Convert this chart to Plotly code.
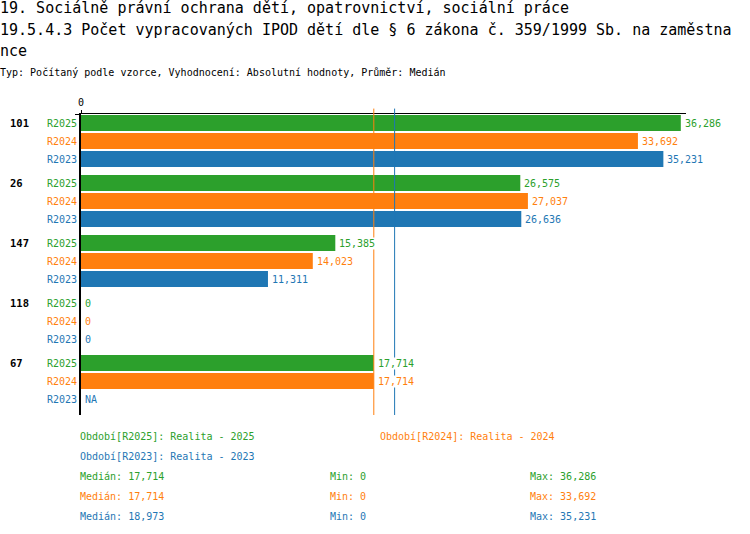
import numpy as np
import plotly.graph_objects as go

# categories (groups, top to bottom) and series
groups = ["101", "26", "147", "118", "67"]
series = ["R2025", "R2024", "R2023"]
colors = ["#2ca02c", "#ff7f0e", "#1f77b4"]
legend_names = ["Realita - 2025", "Realita - 2024", "Realita - 2023"]

r2025 = [36286, 26575, 15385, 0, 17714]
r2024 = [33692, 27037, 14023, 0, 17714]
r2023 = [35231, 26636, 11311, 0, None]
values = [r2025, r2024, r2023]

title_lines = [
    "19. Sociálně právní ochrana dětí, opatrovnictví, sociální práce",
    "19.5.4.3 Počet vypracovaných IPOD dětí dle § 6 zákona č. 359/1999 Sb. na zaměstna",
    "nce",
]
subtitle = "Typ: Počítaný podle vzorce, Vyhodnocení: Absolutní hodnoty, Průměr: Medián"

MONO = "DejaVu Sans Mono"
GROUP_STEP = 10 / 3

fig = go.Figure()
annotations = []


def pos(g, i):
    return g * GROUP_STEP + i


for i, (name, vals, color) in enumerate(zip(series, values, colors)):
    ys = [pos(g, i) for g in range(len(groups))]
    fig.add_trace(
        go.Bar(
            x=vals,
            y=ys,
            orientation="h",
            width=0.88,
            marker=dict(color=color, line_width=0),
            name=name,
            showlegend=False,
            hoverinfo="skip",
        )
    )
    for y, v in zip(ys, vals):
        annotations.append(
            dict(
                x=0 if v is None else v, y=y, xref="x", yref="y",
                text="NA" if v is None else f"{v:,}",
                showarrow=False, xanchor="left", xshift=3,
                bgcolor="white", borderpad=0,
                font=dict(family=MONO, size=10, color=color),
            )
        )
        annotations.append(
            dict(
                x=0, y=y, xref="paper", yref="y", text=name,
                showarrow=False, xanchor="right", xshift=-2,
                font=dict(family=MONO, size=10, color=color),
            )
        )

for g, label in enumerate(groups):
    annotations.append(
        dict(
            x=0, y=pos(g, 0), xref="paper", yref="y", text=f"<b>{label}</b>",
            showarrow=False, xanchor="left", xshift=-73,
            font=dict(family=MONO, size=10.5, color="black"),
        )
    )

# median lines + stats
stats = []
for vals in values:
    arr = np.array([v for v in vals if v is not None], dtype=float)
    stats.append((int(np.median(arr)), int(arr.min()), int(arr.max())))

# later series are drawn on top, so identical medians show only the last colour
median_lines = {}
for (med, _, _), color in zip(stats, colors):
    median_lines[med] = color
for med, color in median_lines.items():
    fig.add_shape(
        type="line", x0=med, x1=med, xref="x", yref="paper", y0=0, y1=1.018,
        line=dict(color=color, width=1),
    )


def text_px(text, px_x, px_y, size, color="black"):
    # px_x / px_y measured from top-left of the figure
    annotations.append(
        dict(
            x=0, y=1, xref="paper", yref="paper", text=text, showarrow=False,
            xanchor="left", yanchor="middle", xshift=px_x - 83, yshift=114 - px_y,
            font=dict(family=MONO, size=size, color=color),
        )
    )


for line, y in zip(title_lines, [8, 30, 51]):
    text_px(line, 0, y, 15)
text_px(subtitle, 0, 72, 10)

legend_pos = [(80, 436), (380, 436), (80, 456)]
for name, lname, color, (lx, ly) in zip(series, legend_names, colors, legend_pos):
    text_px(f"Období[{name}]: {lname}", lx, ly, 10, color)

for (med, mn, mx), color, y in zip(stats, colors, [476, 496, 516]):
    text_px(f"Medián: {med:,}", 80, y, 10, color)
    text_px(f"Min: {mn:,}", 330, y, 10, color)
    text_px(f"Max: {mx:,}", 530, y, 10, color)

fig.update_xaxes(
    side="top",
    range=[0, 36600],
    tickvals=[0],
    ticks="outside",
    ticklen=3,
    tickcolor="black",
    showline=True,
    linecolor="black",
    linewidth=1,
    showgrid=False,
    zeroline=False,
    tickfont=dict(family=MONO, size=10, color="black"),
)
fig.update_yaxes(
    range=[16.22, -0.5],
    tickvals=[-0.5],
    ticks="outside",
    ticklen=4,
    tickcolor="black",
    showticklabels=False,
    showline=True,
    linecolor="black",
    linewidth=2,
    showgrid=False,
    zeroline=False,
)
fig.update_layout(
    width=750,
    height=534,
    margin=dict(l=81, r=64, t=114, b=119),
    plot_bgcolor="white",
    paper_bgcolor="white",
    barmode="overlay",
    annotations=annotations,
    font=dict(family=MONO),
)
fig.write_html(
    "out.html",
    config={"displayModeBar": False},
    post_script="document.body.style.margin='0';document.body.style.overflow='hidden';",
)
